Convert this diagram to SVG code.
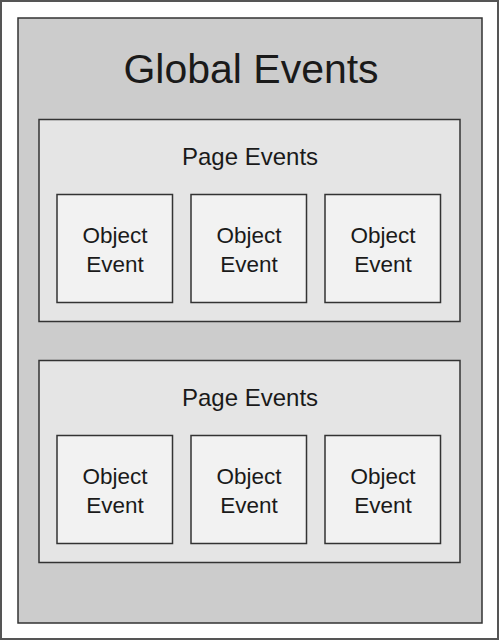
<svg xmlns="http://www.w3.org/2000/svg" width="500" height="641" viewBox="0 0 500 641">
  <style>
    .frame { fill: #ffffff; stroke: #555555; stroke-width: 2; }
    .global { fill: #cccccc; stroke: #333333; stroke-width: 1.5; }
    .page { fill: #e5e5e5; stroke: #333333; stroke-width: 1.5; }
    .obj { fill: #f2f2f2; stroke: #333333; stroke-width: 1.5; }
    text { font-family: "Liberation Sans", Arial, sans-serif; fill: #1a1a1a; text-anchor: middle; }
    .t-global { font-size: 41px; }
    .t-page { font-size: 24px; }
    .t-obj { font-size: 22.5px; }
  </style>
  <rect class="frame" x="1" y="1" width="497" height="638"/>

  <g id="global-events">
    <rect class="global" x="18" y="18" width="464" height="605"/>
    <text class="t-global" x="251" y="83">Global Events</text>
  </g>

  <g id="page-events-1">
    <rect class="page" x="39" y="119.5" width="421" height="202"/>
    <text class="t-page" x="250" y="165">Page Events</text>
  </g>
  <g id="object-event-1-1">
    <rect class="obj" x="57" y="194.5" width="115.5" height="108"/>
    <text class="t-obj" x="115" y="242.5">Object</text>
    <text class="t-obj" x="115" y="272">Event</text>
  </g>
  <g id="object-event-1-2">
    <rect class="obj" x="191" y="194.5" width="115.5" height="108"/>
    <text class="t-obj" x="249" y="242.5">Object</text>
    <text class="t-obj" x="249" y="272">Event</text>
  </g>
  <g id="object-event-1-3">
    <rect class="obj" x="325" y="194.5" width="115.5" height="108"/>
    <text class="t-obj" x="383" y="242.5">Object</text>
    <text class="t-obj" x="383" y="272">Event</text>
  </g>

  <g id="page-events-2">
    <rect class="page" x="39" y="360.5" width="421" height="202"/>
    <text class="t-page" x="250" y="406">Page Events</text>
  </g>
  <g id="object-event-2-1">
    <rect class="obj" x="57" y="435.5" width="115.5" height="108"/>
    <text class="t-obj" x="115" y="483.5">Object</text>
    <text class="t-obj" x="115" y="513">Event</text>
  </g>
  <g id="object-event-2-2">
    <rect class="obj" x="191" y="435.5" width="115.5" height="108"/>
    <text class="t-obj" x="249" y="483.5">Object</text>
    <text class="t-obj" x="249" y="513">Event</text>
  </g>
  <g id="object-event-2-3">
    <rect class="obj" x="325" y="435.5" width="115.5" height="108"/>
    <text class="t-obj" x="383" y="483.5">Object</text>
    <text class="t-obj" x="383" y="513">Event</text>
  </g>

  <g id="connectors"></g>
</svg>
